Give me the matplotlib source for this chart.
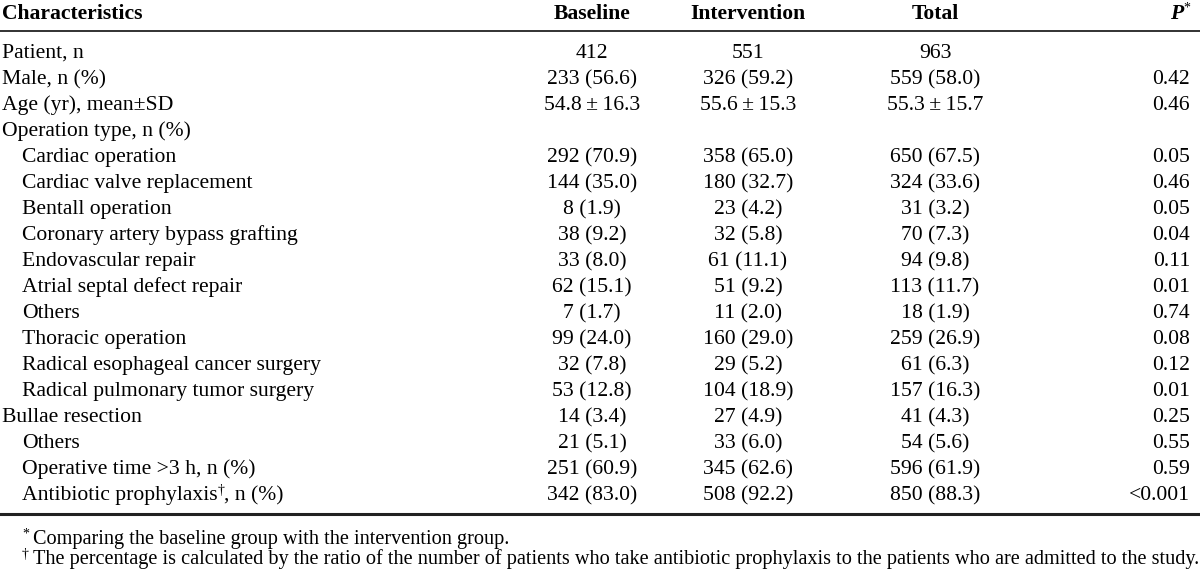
import matplotlib
matplotlib.use('Agg')
import matplotlib.pyplot as plt

plt.rcParams['font.family'] = ['Liberation Serif', 'DejaVu Serif']

# table content
headers = ['Characteristics', 'Baseline', 'Intervention', 'Total']
characteristics = [
    'Patient, n', 'Male, n (%)', 'Age (yr), mean\u00b1SD', 'Operation type, n (%)',
    'Cardiac operation', 'Cardiac valve replacement', 'Bentall operation',
    'Coronary artery bypass grafting', 'Endovascular repair',
    'Atrial septal defect repair', 'Others', 'Thoracic operation',
    'Radical esophageal cancer surgery', 'Radical pulmonary tumor surgery',
    'Bullae resection', 'Others', 'Operative time >3 h, n (%)',
    'Antibiotic prophylaxis\u2020, n (%)',
]
indented = [0, 0, 0, 0, 1, 1, 1, 1, 1, 1, 1, 1, 1, 1, 0, 1, 1, 1]
baseline = ['412', '233 (56.6)', '54.8\u2009\u00b1\u200916.3', '', '292 (70.9)', '144 (35.0)',
            '8 (1.9)', '38 (9.2)', '33 (8.0)', '62 (15.1)', '7 (1.7)', '99 (24.0)',
            '32 (7.8)', '53 (12.8)', '14 (3.4)', '21 (5.1)', '251 (60.9)', '342 (83.0)']
intervention = ['551', '326 (59.2)', '55.6\u2009\u00b1\u200915.3', '', '358 (65.0)', '180 (32.7)',
                '23 (4.2)', '32 (5.8)', '61 (11.1)', '51 (9.2)', '11 (2.0)', '160 (29.0)',
                '29 (5.2)', '104 (18.9)', '27 (4.9)', '33 (6.0)', '345 (62.6)', '508 (92.2)']
total = ['963', '559 (58.0)', '55.3\u2009\u00b1\u200915.7', '', '650 (67.5)', '324 (33.6)',
         '31 (3.2)', '70 (7.3)', '94 (9.8)', '113 (11.7)', '18 (1.9)', '259 (26.9)',
         '61 (6.3)', '157 (16.3)', '41 (4.3)', '54 (5.6)', '596 (61.9)', '850 (88.3)']
p_values = ['', '0.42', '0.46', '', '0.05', '0.46', '0.05', '0.04', '0.11', '0.01',
            '0.74', '0.08', '0.12', '0.01', '0.25', '0.55', '0.59', '<0.001']
footnotes = [('*', 'Comparing the baseline group with the intervention group.'),
             ('\u2020', 'The percentage is calculated by the ratio of the number of patients '
                        'who take antibiotic prophylaxis to the patients who are admitted to the study.')]

W, H = 1200, 573
fig = plt.figure(figsize=(W / 100, H / 100), dpi=100)
ax = fig.add_axes([0, 0, 1, 1])
ax.set_xlim(0, W)
ax.set_ylim(H, 0)
ax.axis('off')
renderer = fig.canvas.get_renderer()

FS = 15.6
SUP = 10
col_x = [592, 748, 935]
p_right = 1190
y_head = 19      # baselines
y0 = 58
dy = 26


def runs(x, y, parts, ha='left'):
    """draw text pieces one after another; parts = (text, size, dy, extra kwargs)"""
    objs = []
    cx = x
    for txt, size, off, kw in parts:
        t = ax.text(cx, y + off, txt, fontsize=size, va='baseline', ha='left', **kw)
        bb = t.get_window_extent(renderer)
        cx += bb.width
        objs.append(t)
    width = cx - x
    shift = {'left': 0, 'center': -width / 2, 'right': -width}[ha]
    for t in objs:
        px, py = t.get_position()
        t.set_x(px + shift)


# header
ax.text(2, y_head, headers[0], fontsize=FS, fontweight='bold', va='baseline')
for h, cx in zip(headers[1:], col_x):
    ax.text(cx, y_head, h, fontsize=FS, fontweight='bold', va='baseline', ha='center')
runs(p_right, y_head, [('P', FS, 0, dict(fontweight='bold', fontstyle='italic')),
                       ('*', SUP, -7, {})], ha='right')
ax.plot([0, W], [31, 31], color='#222222', lw=1.3)

for i, lab in enumerate(characteristics):
    y = y0 + i * dy
    x = 22 if indented[i] else 2
    if '\u2020' in lab:
        a, b = lab.split('\u2020')
        runs(x, y, [(a, FS, 0, {}), ('\u2020', SUP, -6, {}), (b, FS, 0, {})])
    else:
        ax.text(x, y, lab, fontsize=FS, va='baseline')
    for vals, cx in zip([baseline, intervention, total], col_x):
        ax.text(cx, y, vals[i], fontsize=FS, va='baseline', ha='center')
    ax.text(p_right, y, p_values[i], fontsize=FS, va='baseline', ha='right')

y_end = y0 + (len(characteristics) - 1) * dy
ax.plot([0, W], [y_end + 14, y_end + 14], color='#222222', lw=2.2)

for j, (mark, txt) in enumerate(footnotes):
    runs(22, y_end + 44 + j * 20, [(mark, SUP, -6, {}), ('\u2009' + txt, 14.6, 0, {})])

fig.savefig('out.png', dpi=100)
